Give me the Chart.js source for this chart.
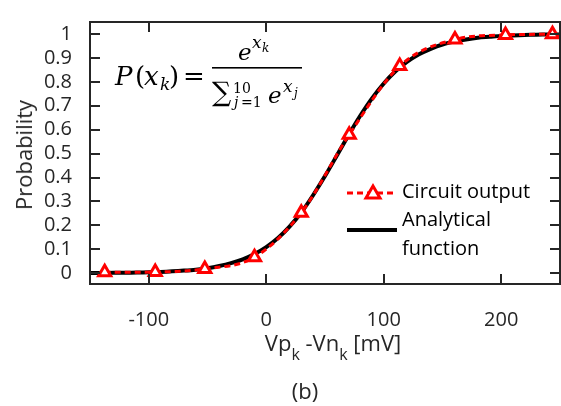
<!DOCTYPE html>
<html>
<head>
<meta charset="utf-8">
<script src="https://cdn.jsdelivr.net/npm/chart.js@4.4.1/dist/chart.umd.min.js"></script>
<style>
  html, body { margin: 0; padding: 0; background: #fff; overflow: hidden; }
  #wrap { position: relative; width: 561px; height: 406px; overflow: hidden; }
  #chart { position: absolute; left: 0; top: 0; }
  .lbl { position: absolute; font-family: "Open Sans", sans-serif; color: #262626; font-size: 22px; white-space: nowrap; }
  #ytitle { left: 23px; top: 155px; transform: translate(-50%, -50%) rotate(-90deg); }
  #xtitle { left: 333px; top: 346px; transform: translate(-50%, -50%); }
  #xtitle sub { font-size: 16px; vertical-align: -9px; }
  #blabel { left: 305px; top: 390px; transform: translate(-50%, -50%); }
</style>
</head>
<body>
<div id="wrap">
  <canvas id="chart" width="570" height="406"></canvas>
  <div class="lbl" id="ytitle">Probability</div>
  <div class="lbl" id="xtitle">Vp<sub>k</sub> -Vn<sub>k</sub> [mV]</div>
  <div class="lbl" id="blabel">(b)</div>
</div>
<script>
// circuit output (markers)
var circuitX = [-137.5, -94.5, -52.3, -10, 29.8, 70.6, 113.6, 160.6, 203.6, 243.6]
var circuitY = [0.004, 0.005, 0.018, 0.067, 0.253, 0.579, 0.866, 0.977, 0.996, 0.999]

// analytical curve
var analyticX = [-150, -140, -130, -120, -110, -100, -90, -80, -70, -60, -50, -40, -30, -20, -10,
  0, 10, 20, 30, 40, 50, 60, 70, 80, 90, 100, 110, 120, 130, 140, 150, 160, 170, 180, 190, 200,
  210, 220, 230, 240, 250]
var analyticY = [0.001, 0.001, 0.0015, 0.002, 0.003, 0.004, 0.0055, 0.008, 0.011, 0.015, 0.021, 0.030, 0.042, 0.058, 0.080,
  0.109, 0.147, 0.196, 0.255, 0.327, 0.406, 0.491, 0.577, 0.658, 0.731, 0.793, 0.844, 0.884, 0.915, 0.938, 0.956, 0.968, 0.977, 0.984, 0.988, 0.992,
  0.994, 0.996, 0.997, 0.998, 0.998]

var xTicks = [-100, 0, 100, 200]
var yTicks = [0, 0.1, 0.2, 0.3, 0.4, 0.5, 0.6, 0.7, 0.8, 0.9, 1]

function toPoints(xs, ys)
{
	var out = []
	for (var i = 0; i < xs.length; i++)
		out.push({x: xs[i], y: ys[i]})
	return out
}

var axisColor = '#262626'
var serif = '"DejaVu Serif", serif'

// t, x, baseline, size, italic
function put(ctx, t, x, y, size, it)
{
	ctx.font = (it ? 'italic ' : '') + size + 'px ' + serif
	ctx.fillText(t, x, y)
}

function drawFormula(ctx)
{
	ctx.save()
	ctx.fillStyle = '#000000'
	ctx.textBaseline = 'alphabetic'
	put(ctx, 'P', 115, 85, 26, true)
	put(ctx, '(', 135, 85, 26)
	put(ctx, 'x', 144, 85, 26, true)
	put(ctx, 'k', 160, 90, 17, true)
	put(ctx, ')', 169, 85, 26)
	put(ctx, '=', 183, 85, 26)
	// numerator
	put(ctx, 'e', 238, 60, 23, true)
	put(ctx, 'x', 252, 48, 17, true)
	put(ctx, 'k', 262, 52, 12, true)
	ctx.fillRect(212, 67, 90, 1.6)
	// denominator
	put(ctx, '\u2211', 212, 101, 27)
	put(ctx, '10', 233, 93, 14)
	put(ctx, 'j', 234, 107, 14, true)
	put(ctx, '=1', 241, 107, 14)
	put(ctx, 'e', 268, 103, 23, true)
	put(ctx, 'x', 283, 92, 17, true)
	put(ctx, 'j', 294, 97, 12, true)
	ctx.restore()
}

var framePlugin = {
	id: 'frame',
	afterDraw: function(chart)
	{
		var ctx = chart.ctx
		var a = chart.chartArea
		var xs = chart.scales.x
		var ys = chart.scales.y
		ctx.save()
		ctx.strokeStyle = axisColor
		ctx.lineWidth = 2
		ctx.strokeRect(a.left, a.top, a.right - a.left, a.bottom - a.top)
		ctx.beginPath()
		xTicks.forEach(function(v)
		{
			var px = Math.round(xs.getPixelForValue(v))
			ctx.moveTo(px, a.bottom); ctx.lineTo(px, a.bottom - 10)
			ctx.moveTo(px, a.top); ctx.lineTo(px, a.top + 10)
		})
		yTicks.forEach(function(v)
		{
			var py = Math.round(ys.getPixelForValue(v))
			ctx.moveTo(a.left, py); ctx.lineTo(a.left + 10, py)
			ctx.moveTo(a.right, py); ctx.lineTo(a.right - 10, py)
		})
		ctx.stroke()

		// legend
		ctx.lineWidth = 3
		ctx.strokeStyle = '#ff0000'
		ctx.setLineDash([6, 4])
		ctx.beginPath()
		ctx.moveTo(347, 193); ctx.lineTo(397, 193)
		ctx.stroke()
		ctx.setLineDash([])
		ctx.beginPath()
		ctx.moveTo(373, 186); ctx.lineTo(380, 198); ctx.lineTo(366, 198); ctx.closePath()
		ctx.fillStyle = '#ffffff'
		ctx.fill()
		ctx.stroke()
		ctx.strokeStyle = '#000000'
		ctx.lineWidth = 4
		ctx.beginPath()
		ctx.moveTo(347, 230); ctx.lineTo(397, 230)
		ctx.stroke()
		ctx.fillStyle = '#000000'
		ctx.font = '20px "Open Sans"'
		ctx.textBaseline = 'middle'
		ctx.fillText('Circuit output', 402, 192)
		ctx.fillText('Analytical', 402, 220)
		ctx.fillText('function', 402, 249)
		ctx.restore()

		drawFormula(ctx)
	}
}

new Chart(document.getElementById('chart'), {
	type: 'scatter',
	data: {
		datasets: [
			{
				label: 'Circuit output',
				data: toPoints(circuitX, circuitY),
				showLine: true,
				order: 0,
				borderColor: '#ff0000',
				borderWidth: 3,
				borderDash: [6, 4],
				cubicInterpolationMode: 'monotone',
				pointStyle: 'triangle',
				pointRadius: 7,
				pointBorderWidth: 3,
				pointBorderColor: '#ff0000',
				pointBackgroundColor: '#ffffff'
			},
			{
				label: 'Analytical function',
				data: toPoints(analyticX, analyticY),
				showLine: true,
				order: 1,
				borderColor: '#000000',
				borderWidth: 4,
				pointRadius: 0,
				tension: 0.3
			}
		]
	},
	options: {
		responsive: false,
		animation: false,
		layout: { padding: { top: 13, right: 6, left: 0, bottom: 0 } },
		plugins: {
			legend: { display: false },
			tooltip: { enabled: false }
		},
		scales: {
			x: {
				type: 'linear',
				min: -150,
				max: 250,
				afterBuildTicks: function(s) { s.ticks = xTicks.map(function(v){ return {value: v} }) },
				afterFit: function(s) { s.height = 122 },
				grid: { display: false },
				border: { display: false },
				ticks: {
					color: axisColor,
					padding: 16,
					maxRotation: 0,
					autoSkip: false,
					font: { family: 'Open Sans', size: 20 }
				}
			},
			y: {
				min: -0.045,
				max: 1.05,
				afterBuildTicks: function(s) { s.ticks = yTicks.map(function(v){ return {value: v} }) },
				afterFit: function(s) { s.width = 90 },
				grid: { display: false },
				border: { display: false },
				ticks: {
					color: axisColor,
					padding: 10,
					autoSkip: false,
					font: { family: 'Open Sans', size: 20 },
					callback: function(v) { return String(Math.round(v * 10) / 10) }
				}
			}
		}
	},
	plugins: [framePlugin]
})
</script>
</body>
</html>
